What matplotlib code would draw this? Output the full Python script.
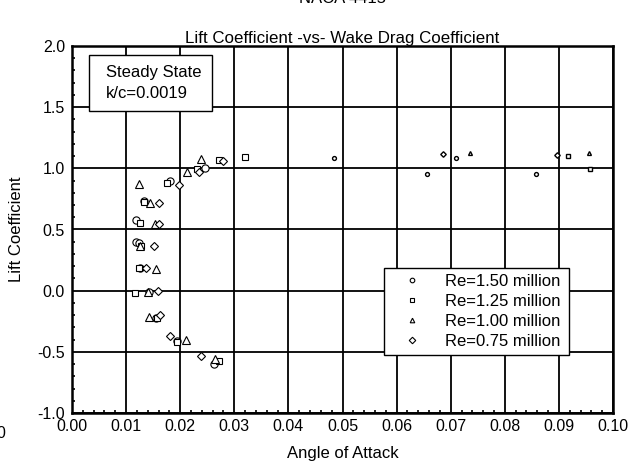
import matplotlib
matplotlib.use("Agg")
import matplotlib.pyplot as plt
from matplotlib.patches import Rectangle
from matplotlib.ticker import MultipleLocator

plt.rcParams['font.family'] = ['Liberation Sans', 'DejaVu Sans']

# wake drag coefficient / lift coefficient per Reynolds number
cd_150 = [0.0262, 0.0194, 0.0156, 0.0142, 0.0126, 0.0119, 0.0123, 0.0119, 0.0133, 0.0181, 0.0245]
cl_150 = [-0.598, -0.415, -0.220, -0.014, 0.183, 0.396, 0.390, 0.576, 0.730, 0.899, 1.005]
cd_125 = [0.0271, 0.0195, 0.0158, 0.0117, 0.0123, 0.0128, 0.0126, 0.0134, 0.0176, 0.0231, 0.0272, 0.0320]
cl_125 = [-0.577, -0.421, -0.224, -0.019, 0.183, 0.363, 0.552, 0.721, 0.877, 0.995, 1.071, 1.093]
cd_100 = [0.0265, 0.0211, 0.0143, 0.0140, 0.0155, 0.0125, 0.0153, 0.0145, 0.0124, 0.0212, 0.0238]
cl_100 = [-0.560, -0.400, -0.216, -0.011, 0.178, 0.363, 0.549, 0.716, 0.872, 0.973, 1.077]
cd_075 = [0.0239, 0.0181, 0.0163, 0.0159, 0.0136, 0.0151, 0.0161, 0.0161, 0.0198, 0.0234, 0.0279]
cl_075 = [-0.538, -0.374, -0.197, 0.000, 0.183, 0.363, 0.546, 0.713, 0.866, 0.973, 1.063]

# post-stall points (drawn smaller)
cd_150s = [0.0485, 0.0657, 0.0709, 0.0857]
cl_150s = [1.085, 0.954, 1.085, 0.954]
cd_125s = [0.0917, 0.0957]
cl_125s = [1.104, 0.995]
cd_100s = [0.0736, 0.0956]
cl_100s = [1.126, 1.126]
cd_075s = [0.0686, 0.0896]
cl_075s = [1.115, 1.110]

labels = ['Re=1.50 million', 'Re=1.25 million', 'Re=1.00 million', 'Re=0.75 million']
markers = ['o', 's', '^', 'D']

fig = plt.figure(figsize=(6.35, 4.69), dpi=100)
ax = fig.add_axes([72/635, 1 - 413/469, 541/635, 367/469])

main = [(cd_150, cl_150), (cd_125, cl_125), (cd_100, cl_100), (cd_075, cl_075)]
small = [(cd_150s, cl_150s), (cd_125s, cl_125s), (cd_100s, cl_100s), (cd_075s, cl_075s)]
sizes = [5.2, 5, 5.2, 4.4]
for (x, y), (xs, ys), m, lab, s in zip(main, small, markers, labels, sizes):
    ax.plot(x, y, linestyle='none', marker=m, markersize=s, markerfacecolor='white',
            markeredgecolor='black', markeredgewidth=0.8, zorder=3)
    ax.plot(xs, ys, linestyle='none', marker=m, markersize=2.8, markerfacecolor='white',
            markeredgecolor='black', markeredgewidth=1.0, zorder=3)
    ax.plot([], [], linestyle='none', marker=m, markersize=3.3, markerfacecolor='white',
            markeredgecolor='black', markeredgewidth=0.8, label=lab)

ax.set_xlim(0, 0.10)
ax.set_ylim(-1.0, 2.0)
ax.xaxis.set_major_locator(MultipleLocator(0.01))
ax.xaxis.set_minor_locator(MultipleLocator(0.002))
ax.yaxis.set_major_locator(MultipleLocator(0.5))
ax.yaxis.set_minor_locator(MultipleLocator(0.1))
ax.xaxis.set_major_formatter(plt.FormatStrFormatter('%.2f'))
ax.yaxis.set_major_formatter(plt.FormatStrFormatter('%.1f'))
ax.grid(True, which='major', color='black', linewidth=1.3)
ax.tick_params(which='major', length=0, labelsize=11.5)
ax.tick_params(axis='y', which='major', pad=5)
ax.tick_params(axis='x', which='major', pad=4)
ax.tick_params(which='minor', direction='in', length=2.5, width=1.2)
for sp in ax.spines.values():
    sp.set_linewidth(1.8)

ax.set_title('Lift Coefficient -vs- Wake Drag Coefficient', fontsize=12.2, pad=2)
ax.set_xlabel('Angle of Attack', fontsize=12, labelpad=9)
ax.set_ylabel('Lift Coefficient', fontsize=12, labelpad=10)
fig.text(0.54, 1.004, 'NACA 4415', ha='center', va='center', fontsize=12)
fig.text(-0.006, 1 - 433/469, '0', ha='left', va='center', fontsize=11.5)

ax.add_patch(Rectangle((0.031, 0.823), 0.228, 0.152, transform=ax.transAxes,
                       facecolor='white', edgecolor='black', linewidth=1, zorder=4))
ax.text(0.062, 0.899, 'Steady State\nk/c=0.0019', transform=ax.transAxes, fontsize=12,
        ha='left', va='center', linespacing=1.45, zorder=5)

leg = ax.legend(loc='lower left', bbox_to_anchor=(0.577, 0.158, 0.342, 0.237), mode='expand',
                fontsize=12, fancybox=False, framealpha=1, edgecolor='black', handlelength=2.6,
                handletextpad=0.67, borderpad=0.37, labelspacing=0.3, borderaxespad=0)
leg.get_frame().set_linewidth(1)

fig.savefig('out.png', dpi=100)
